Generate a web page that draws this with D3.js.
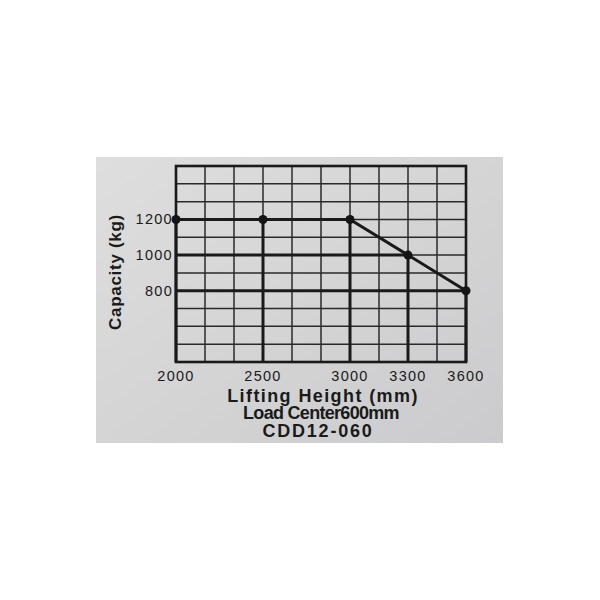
<!DOCTYPE html>
<html>
<head>
<meta charset="utf-8">
<script src="https://cdn.jsdelivr.net/npm/d3@7"></script>
<style>
  body { margin: 0; background: #ffffff; }
  text { font-family: "Liberation Sans", Arial, sans-serif; fill: #1a1a1a; }
</style>
</head>
<body>
<div id="vis"></div>
<script>
// load chart for the lift truck label
const FRAME_WIDTH = 600;
const FRAME_HEIGHT = 600;
const PLOT = {left: 176, right: 466, top: 166, bottom: 362};

const X_TICKS = [2000, 2500, 3000, 3300, 3600];
const Y_TICKS = [800, 1000, 1200];
const HEIGHTS = [2000, 2500, 3000, 3300, 3600];     // lifting height (mm)
const CAPACITIES = [1200, 1200, 1200, 1000, 800];   // capacity (kg)
const GRID_COLUMNS = 10;
const Y_DOMAIN = [400, 1500];
const TITLES = ['Lifting Height (mm)', 'Load Center600mm', 'CDD12-060'];

const FRAME = d3.select('#vis')
                .append('svg')
                    .attr('width', FRAME_WIDTH)
                    .attr('height', FRAME_HEIGHT);

// grey label card behind the chart
const grad = FRAME.append('defs').append('linearGradient')
                .attr('id', 'card')
                .attr('x1', '0%').attr('y1', '0%')
                .attr('x2', '100%').attr('y2', '100%');
grad.append('stop').attr('offset', '0%').attr('stop-color', '#dedede');
grad.append('stop').attr('offset', '100%').attr('stop-color', '#cbcbcd');

FRAME.append('rect')
        .attr('x', 96).attr('y', 157)
        .attr('width', 407).attr('height', 286)
        .attr('fill', 'url(#card)');

// scales: grid columns are even, but the height ticks are not
const COL_SCALE = d3.scaleLinear()
                .domain([0, GRID_COLUMNS])
                .range([PLOT.left, PLOT.right]);
const X_SCALE = d3.scaleLinear()
                .domain([2000, 3000, 3600])
                .range([COL_SCALE(0), COL_SCALE(6), COL_SCALE(10)]);
const Y_SCALE = d3.scaleLinear()
                .domain(Y_DOMAIN)
                .range([PLOT.bottom, PLOT.top]);

// thin grid
FRAME.append('g')
    .selectAll('line')
    .data(d3.range(GRID_COLUMNS + 1))
    .enter()
    .append('line')
        .attr('x1', d => COL_SCALE(d)).attr('x2', d => COL_SCALE(d))
        .attr('y1', PLOT.top).attr('y2', PLOT.bottom)
        .attr('stroke', '#2a2a2a').attr('stroke-width', 1.5);

FRAME.append('g')
    .selectAll('line')
    .data(d3.range(Y_DOMAIN[0], Y_DOMAIN[1] + 1, 100))
    .enter()
    .append('line')
        .attr('x1', PLOT.left).attr('x2', PLOT.right)
        .attr('y1', d => Y_SCALE(d)).attr('y2', d => Y_SCALE(d))
        .attr('stroke', '#2a2a2a').attr('stroke-width', 1.5);

// outer frame
FRAME.append('rect')
        .attr('x', PLOT.left).attr('y', PLOT.top)
        .attr('width', PLOT.right - PLOT.left)
        .attr('height', PLOT.bottom - PLOT.top)
        .attr('fill', 'none')
        .attr('stroke', '#1a1a1a').attr('stroke-width', 2.6);

const points = HEIGHTS.map((h, i) => ({h: h, c: CAPACITIES[i]}));

// heavy reference lines from each point back to the axes
FRAME.append('g')
    .selectAll('line')
    .data(points)
    .enter()
    .append('line')
        .attr('x1', X_SCALE(X_TICKS[0])).attr('x2', d => X_SCALE(d.h))
        .attr('y1', d => Y_SCALE(d.c)).attr('y2', d => Y_SCALE(d.c))
        .attr('stroke', '#1a1a1a').attr('stroke-width', 3);

FRAME.append('g')
    .selectAll('line')
    .data(points)
    .enter()
    .append('line')
        .attr('x1', d => X_SCALE(d.h)).attr('x2', d => X_SCALE(d.h))
        .attr('y1', d => Y_SCALE(d.c)).attr('y2', PLOT.bottom)
        .attr('stroke', '#1a1a1a').attr('stroke-width', 3);

// capacity curve
FRAME.append('path')
        .datum(points)
        .attr('d', d3.line().x(d => X_SCALE(d.h)).y(d => Y_SCALE(d.c)))
        .attr('fill', 'none')
        .attr('stroke', '#1a1a1a').attr('stroke-width', 3);

FRAME.selectAll('.pt')
        .data(points)
        .enter()
        .append('circle')
            .attr('class', 'pt')
            .attr('cx', d => X_SCALE(d.h))
            .attr('cy', d => Y_SCALE(d.c))
            .attr('r', 4.5)
            .attr('fill', '#151515');

// tick labels
FRAME.append('g')
    .selectAll('text')
    .data(X_TICKS)
    .enter()
    .append('text')
        .attr('x', d => X_SCALE(d))
        .attr('y', 381)
        .attr('text-anchor', 'middle')
        .attr('font-size', '14.5px')
        .attr('letter-spacing', '1.3px')
        .text(d => d);

FRAME.append('g')
    .selectAll('text')
    .data(Y_TICKS)
    .enter()
    .append('text')
        .attr('x', PLOT.left - 3)
        .attr('y', d => Y_SCALE(d) + 5)
        .attr('text-anchor', 'end')
        .attr('font-size', '14.5px')
        .attr('letter-spacing', '1.3px')
        .text(d => d);

// axis titles
FRAME.append('text')
        .attr('transform', 'translate(121,272) rotate(-90)')
        .attr('text-anchor', 'middle')
        .attr('font-size', '17px')
        .attr('font-weight', 'bold')
        .attr('letter-spacing', '0.7px')
        .text('Capacity (kg)');

FRAME.append('text')
        .attr('x', 323).attr('y', 402)
        .attr('text-anchor', 'middle')
        .attr('font-size', '18px')
        .attr('font-weight', 'bold')
        .attr('letter-spacing', '1.4px')
        .text(TITLES[0]);

FRAME.append('text')
        .attr('x', 321).attr('y', 419)
        .attr('text-anchor', 'middle')
        .attr('font-size', '18px')
        .attr('font-weight', 'bold')
        .attr('letter-spacing', '-0.7px')
        .text(TITLES[1]);

FRAME.append('text')
        .attr('x', 318).attr('y', 437)
        .attr('text-anchor', 'middle')
        .attr('font-size', '18px')
        .attr('font-weight', 'bold')
        .attr('letter-spacing', '1.8px')
        .text(TITLES[2]);
</script>
</body>
</html>
